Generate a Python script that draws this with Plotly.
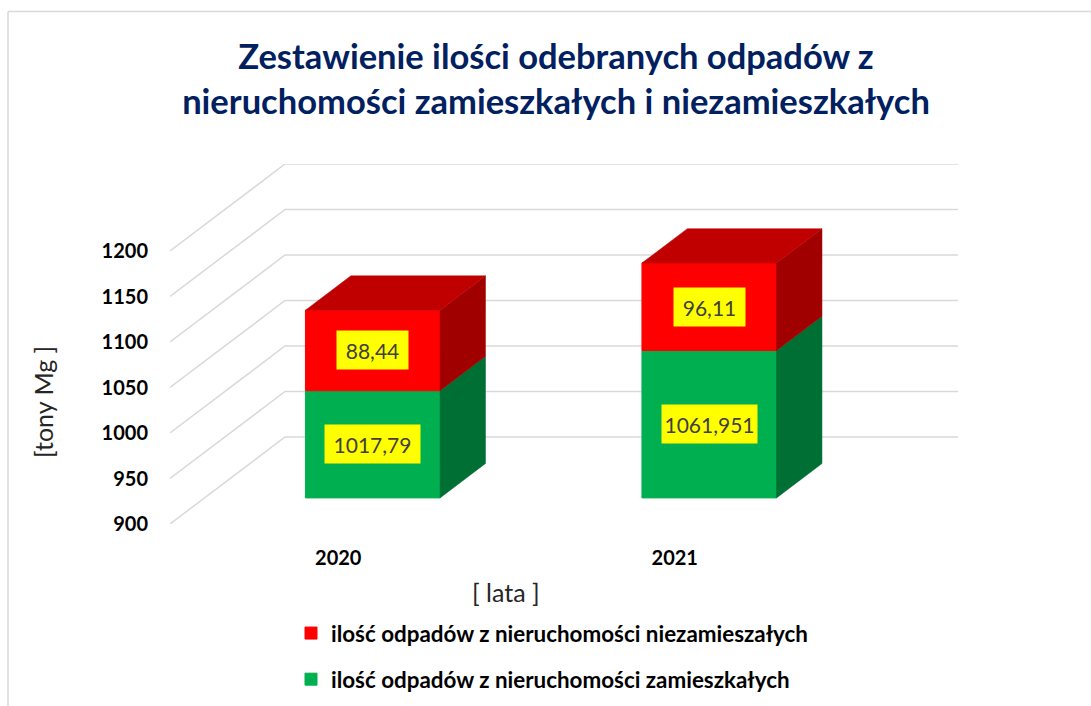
import plotly.graph_objects as go

# ---- data ----
years = ["2020", "2021"]
residential = [1017.79, 1061.951]
non_residential = [88.44, 96.11]
y_ticks = [900, 950, 1000, 1050, 1100, 1150, 1200]
name_res = "ilość odpadów z nieruchomości zamieszkałych"
name_non = "ilość odpadów z nieruchomości niezamieszałych"
title_text = "Zestawienie ilości odebranych odpadów z<br>nieruchomości zamieszkałych i niezamieszkałych"

# ---- styling / pseudo-3D geometry (the original is an oblique 3-D column chart) ----
W, H = 1091, 706
FONT = "Lato"
X0_PX, X1_PX = 170, 958   # plot extent incl. depth
Y_BOTTOM_PX, Y_TOP_PX = 524, 164
PX_PER_CAT = 336.5
PX_PER_UNIT = 0.91
DEPTH_X = 115 / PX_PER_CAT         # full wall depth, in category units
DEPTH_Y = 87 / PX_PER_UNIT         # full wall depth, in value units
FRONT, BACK = 0.30, 0.695          # bar's front/back position within the depth
BAR_W = 0.40
GREEN, GREEN_SIDE = "#00B050", "#006F33"
RED, RED_TOP, RED_SIDE = "#FF0000", "#C00000", "#A00000"
GRID = "#D9D9D9"
TXT = "#404040"


def proj(cat, value, depth):
    """Oblique projection of (category position, value, depth 0..1) to axis coordinates."""
    return cat + depth * DEPTH_X, value + depth * DEPTH_Y


fig = go.Figure()

# gridlines: side wall + back wall
gx, gy = [], []
for v in y_ticks:
    a, b = proj(0, v, 0), proj(0, v, 1)
    c = proj(2, v, 1)
    gx += [a[0], b[0], c[0], None]
    gy += [a[1], b[1], c[1], None]
fig.add_trace(go.Scatter(x=gx, y=gy, mode="lines", line=dict(color=GRID, width=1.5),
                         showlegend=False, hoverinfo="skip", zorder=0))

centres = [i + 0.5 for i in range(len(years))]
front_x = [proj(c, 0, FRONT)[0] for c in centres]
base_res = [proj(0, y_ticks[0], FRONT)[1]] * len(years)
h_res = [r - y_ticks[0] for r in residential]
base_non = [b + h for b, h in zip(base_res, h_res)]

fig.add_trace(go.Bar(x=front_x, y=h_res, base=base_res, width=BAR_W, name=name_res,
                     marker=dict(color=GREEN, line=dict(color=GREEN, width=1)),
                     legendgroup="a", legendrank=2, zorder=1, hoverinfo="skip"))
fig.add_trace(go.Bar(x=front_x, y=non_residential, base=base_non, width=BAR_W, name=name_non,
                     marker=dict(color=RED, line=dict(color=RED, width=1)),
                     legendgroup="b", legendrank=1, zorder=1, hoverinfo="skip"))


def face(points, colour):
    xs, ys = zip(*points)
    fig.add_trace(go.Scatter(x=list(xs) + [xs[0]], y=list(ys) + [ys[0]], mode="lines",
                             line=dict(color=colour, width=0.5), fill="toself", fillcolor=colour,
                             showlegend=False, hoverinfo="skip", zorder=2))


for c, r, n in zip(centres, residential, non_residential):
    left, right = c - BAR_W / 2, c + BAR_W / 2
    bottom, mid, top = y_ticks[0], r, r + n
    face([proj(right, bottom, FRONT), proj(right, mid, FRONT), proj(right, mid, BACK), proj(right, bottom, BACK)], GREEN_SIDE)
    face([proj(right, mid, FRONT), proj(right, top, FRONT), proj(right, top, BACK), proj(right, mid, BACK)], RED_SIDE)
    face([proj(left, top, FRONT), proj(right, top, FRONT), proj(right, top, BACK), proj(left, top, BACK)], RED_TOP)


def label(cat, value_mid, value, width):
    x, y = proj(cat, value_mid, FRONT)
    fig.add_annotation(x=x, y=y, xref="x", yref="y", text=str(value).replace(".", ","),
                       showarrow=False, bgcolor="#FFFF00", width=width, height=38, borderpad=0,
                       font=dict(family=FONT, size=21, color=TXT), align="center", valign="middle")


for c, r, n in zip(centres, residential, non_residential):
    label(c, (y_ticks[0] + r) / 2, r, 95)
    label(c, r + n / 2, n, 71)

# axis titles
fig.add_annotation(x=506 / W, y=1 - 592 / H, xref="paper", yref="paper", text="[ lata ]", showarrow=False,
                   xanchor="center", yanchor="middle",
                   font=dict(family=FONT, size=25, color="#262626"))
fig.add_annotation(x=43 / W, y=1 - 402 / H, xref="paper", yref="paper", text="[tony Mg ]", showarrow=False,
                   xanchor="center", yanchor="middle",
                   textangle=-90, font=dict(family=FONT, size=25, color="#262626"))

fig.update_layout(
    template="none",
    width=W, height=H, margin=dict(l=0, r=0, t=0, b=0, autoexpand=False),
    paper_bgcolor="white", plot_bgcolor="rgba(0,0,0,0)",
    barmode="overlay",
    title=dict(text=title_text, x=556 / W, xanchor="center", xref="paper",
               y=1 - 69 / H, yanchor="middle", yref="container",
               font=dict(family=FONT, size=34.5, color="#002060", weight="bold")),
    xaxis=dict(domain=[X0_PX / W, X1_PX / W], range=[0, 2 + DEPTH_X], automargin=False,
               tickmode="array", tickvals=centres, ticktext=years, showgrid=False, zeroline=False,
               showline=False, ticks="", ticklabelstandoff=20,
               tickfont=dict(family=FONT, size=20, color="#000000", weight="bold")),
    yaxis=dict(domain=[1 - Y_BOTTOM_PX / H, 1 - Y_TOP_PX / H], automargin=False,
               range=[y_ticks[0], y_ticks[-1] + DEPTH_Y],
               tickmode="array", tickvals=y_ticks, showgrid=False, zeroline=False,
               showline=False, ticks="", ticklabelstandoff=21,
               tickfont=dict(family=FONT, size=20, color="#000000", weight="bold")),
    legend=dict(x=291 / W, y=1 - 612 / H, xanchor="left", yanchor="top",
                traceorder="grouped", tracegroupgap=14, itemclick=False, itemdoubleclick=False,
                font=dict(family=FONT, size=22.4, color="#000000", weight="bold"),
                bgcolor="rgba(0,0,0,0)"),
    shapes=[
        dict(type="line", xref="paper", yref="paper", x0=8 / W, x1=1, y0=1 - 11.5 / H, y1=1 - 11.5 / H,
             line=dict(color=GRID, width=1.5)),
        dict(type="line", xref="paper", yref="paper", x0=8 / W, x1=8 / W, y0=1 - 11.5 / H, y1=0,
             line=dict(color=GRID, width=1.5)),
    ],
)

fig.write_html("out.html", post_script="document.body.style.margin='0';",
               config={"displayModeBar": False})
